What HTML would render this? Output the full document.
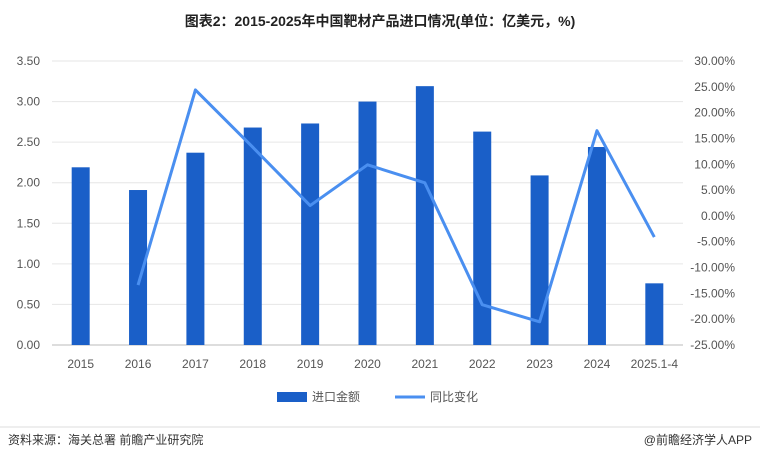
<!DOCTYPE html>
<html><head><meta charset="utf-8"><style>
body{margin:0;background:#fff;width:760px;height:461px;overflow:hidden;font-family:"Liberation Sans","Noto Sans CJK SC",sans-serif}
</style></head><body>
<svg id="c" width="760" height="461" xmlns="http://www.w3.org/2000/svg">
<text x="380" y="26" text-anchor="middle" font-size="14" font-weight="bold" fill="#222">图表2：2015-2025年中国靶材产品进口情况(单位：亿美元，%)</text>
<g id="grid"></g><g id="bars"></g><g id="line"></g><g id="axes"></g>
<g>
<rect x="277" y="392" width="30" height="10" fill="#1a5fc8"/>
<text x="312" y="401" font-size="12" fill="#555">进口金额</text>
<line x1="395" y1="397" x2="425" y2="397" stroke="#4a8ff0" stroke-width="3"/>
<text x="430" y="401" font-size="12" fill="#555">同比变化</text>
</g>
<line x1="0" y1="427" x2="760" y2="427" stroke="#ddd"/>
<text x="8" y="444" font-size="12" fill="#333">资料来源：海关总署 前瞻产业研究院</text>
<text x="752" y="444" text-anchor="end" font-size="12" fill="#333">@前瞻经济学人APP</text>
</svg>
<script>
const categories=["2015","2016","2017","2018","2019","2020","2021","2022","2023","2024","2025.1-4"];
const imports=[2.19,1.91,2.37,2.68,2.73,3.00,3.19,2.63,2.09,2.44,0.76];
const yoy=[null,-13.4,24.4,13.3,2.0,9.9,6.4,-17.2,-20.5,16.5,-4.1];
const leftTicks=[0,0.5,1,1.5,2,2.5,3,3.5];
const rightTicks=[-25,-20,-15,-10,-5,0,5,10,15,20,25,30];
const NS="http://www.w3.org/2000/svg";
const x0=52,x1=683,yTop=61,yBot=345;
const bw=(x1-x0)/categories.length;
const xC=i=>x0+bw*(i+0.5);
const yL=v=>yBot-(v/3.5)*(yBot-yTop);
const yR=v=>yBot-((v+25)/55)*(yBot-yTop);
function mk(t,a,p){const e=document.createElementNS(NS,t);for(const k in a)e.setAttribute(k,a[k]);p.appendChild(e);return e;}
const g=document.getElementById('grid'),ax=document.getElementById('axes'),bg=document.getElementById('bars'),lg=document.getElementById('line');
leftTicks.forEach(v=>{
 const l=mk('line',{x1:x0,x2:x1,y1:yL(v),y2:yL(v),stroke:v===0?'#bbb':'#e6e6e6'},g);
 
 
 const t=mk('text',{x:40,y:yL(v)+4,'text-anchor':'end','font-size':12,fill:'#555'},ax);
 t.textContent=v.toFixed(2);
 
 
});
rightTicks.forEach(v=>{
 const t=mk('text',{x:735,y:yR(v)+4,'text-anchor':'end','font-size':12,fill:'#555'},ax);
 t.textContent=v.toFixed(2)+'%';
 
 
});
categories.forEach((c,i)=>{
 const t=mk('text',{x:xC(i),y:368,'text-anchor':'middle','font-size':12,fill:'#555'},ax);
 t.textContent=c;
 
 
 const r=mk('rect',{x:xC(i)-9,y:yL(imports[i]),width:18,height:yBot-yL(imports[i]),fill:'#1a5fc8'},bg);
 
 
});
const pts=[];yoy.forEach((v,i)=>{if(v!==null)pts.push(xC(i)+','+yR(v));});
const pl=mk('polyline',{points:pts.join(' '),fill:'none',stroke:'#4a8ff0','stroke-width':3,'stroke-linejoin':'round'},lg);


</script>
</body></html>
